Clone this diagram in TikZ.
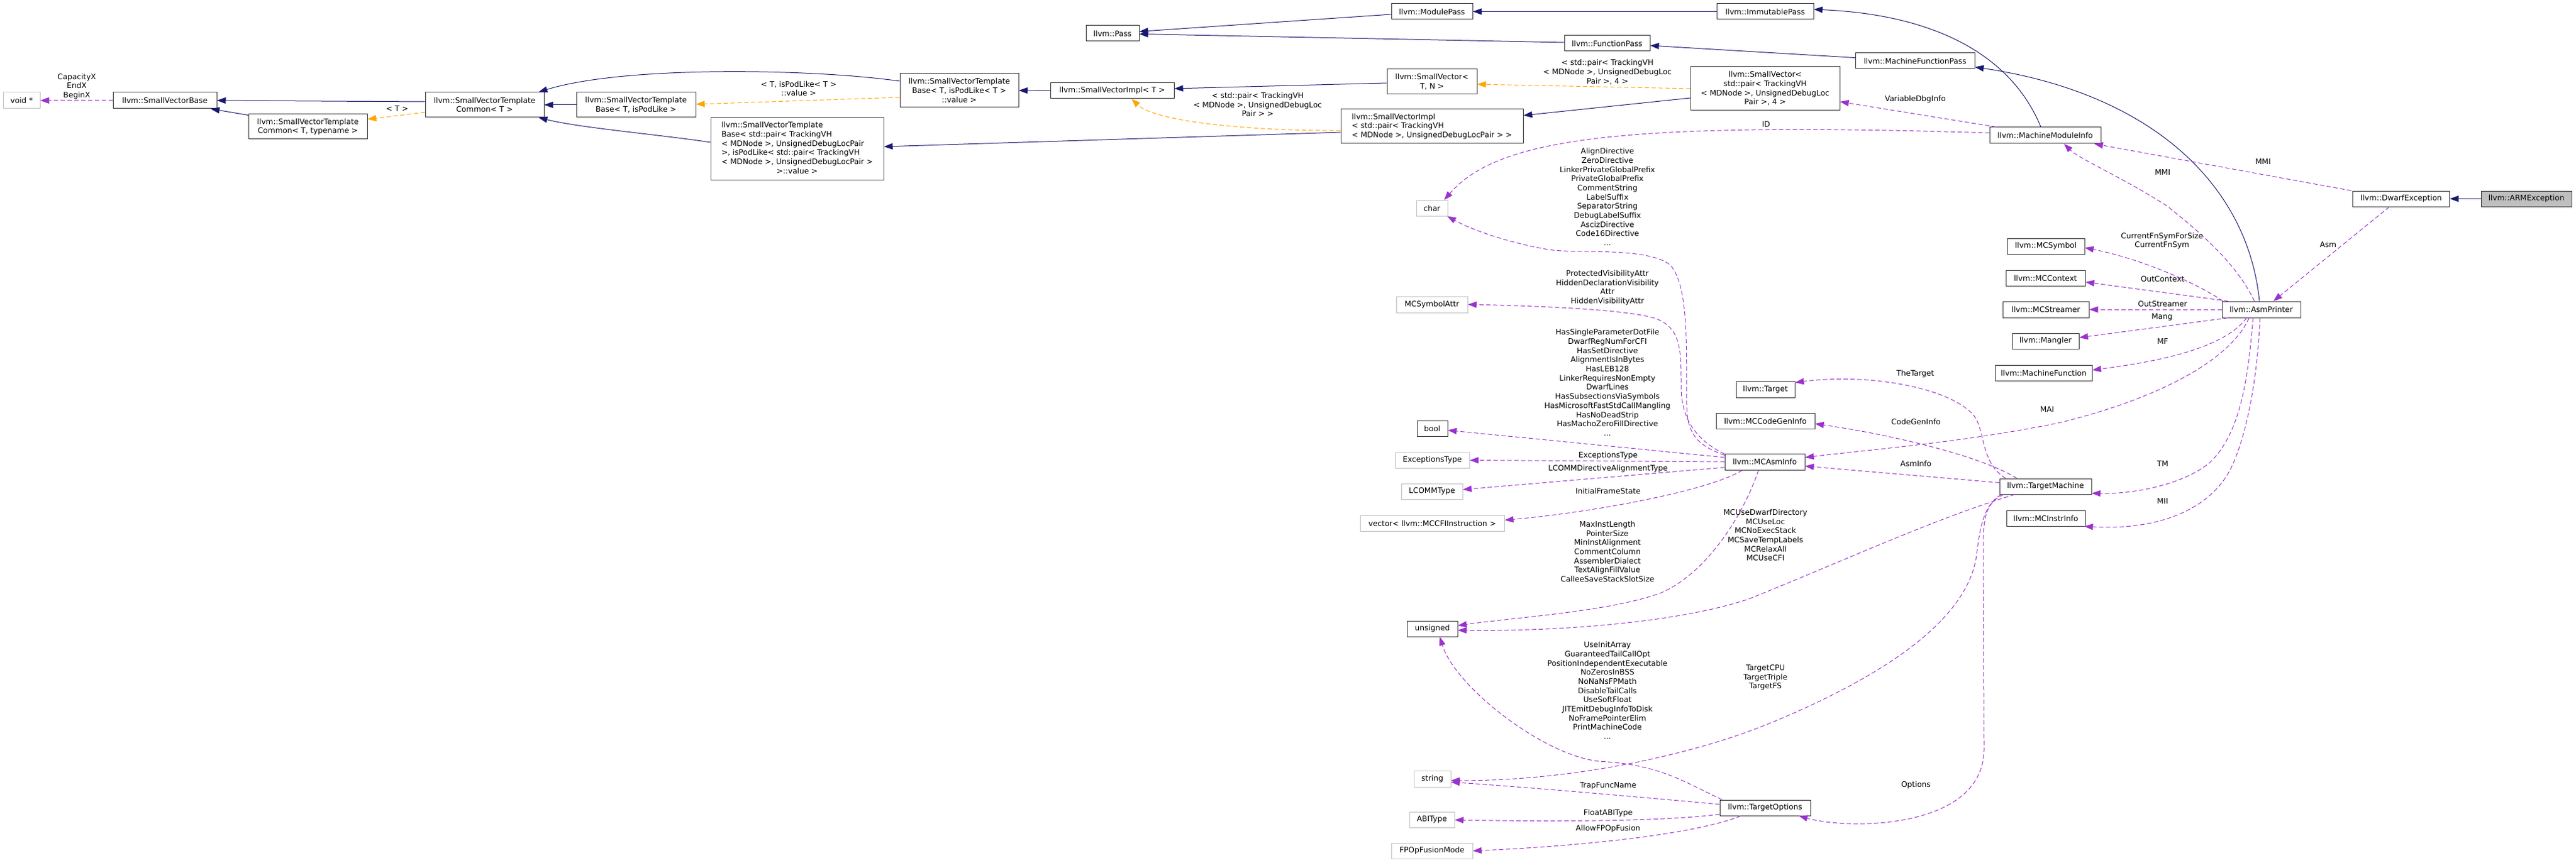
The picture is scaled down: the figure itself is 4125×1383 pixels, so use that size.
\documentclass[tikz,border=0pt]{standalone}
\usepackage{fontspec}
\setmainfont{DejaVu Sans}
\usetikzlibrary{arrows.meta}
\newcommand{\dgfont}{\fontsize{12.2pt}{14.7pt}\selectfont}
\definecolor{navyb}{HTML}{191970}
\definecolor{orng}{HTML}{FFA500}
\definecolor{purp}{HTML}{9A32CD}
\definecolor{grayb}{HTML}{BFBFBF}
\definecolor{bordr}{HTML}{333333}
\begin{document}
\begin{tikzpicture}[x=1pt,y=-1pt,
  every node/.style={font=\dgfont},
  cls/.style={draw=bordr,line width=1pt,fill=white,inner sep=0pt,align=center},
  ext/.style={cls,draw=grayb},
  lbl/.style={inner sep=0pt,align=center},
  inh/.style={draw=navyb,line width=1pt,-{Triangle[length=14pt,width=10pt]}},
  tmpl/.style={draw=orng,line width=1pt,dash pattern=on 7pt off 4pt,-{Triangle[length=14pt,width=10pt]}},
  use/.style={draw=purp,line width=1pt,dash pattern=on 7pt off 4pt,-{Triangle[length=14pt,width=10pt]}}]
\fill[white] (0,0) rectangle (4125,1383);
\path[use as bounding box] (0,0) rectangle (4125,1383);

% ---- nodes ----
\node[ext,minimum width=59pt,minimum height=26pt] (void) at (34.5,161) {void *};
\node[cls,minimum width=166pt,minimum height=26pt] (svbase) at (264,161) {llvm::SmallVectorBase};
\node[cls,minimum width=190pt,minimum height=40pt] (svtcTT) at (493,203) {llvm::SmallVectorTemplate\\Common< T, typename >};
\node[cls,minimum width=190pt,minimum height=40pt] (svtcT) at (776,168) {llvm::SmallVectorTemplate\\Common< T >};
\node[cls,minimum width=191pt,minimum height=40pt] (svtbTP) at (1018.5,168) {llvm::SmallVectorTemplate\\Base< T, isPodLike >};
\node[cls,minimum width=277pt,minimum height=99pt] (svtbPair) at (1276.5,238.5) {\begin{tabular}{@{}l@{}}llvm::SmallVectorTemplate\\Base< std::pair< TrackingVH\\< MDNode >, UnsignedDebugLocPair\\>, isPodLike< std::pair< TrackingVH\\< MDNode >, UnsignedDebugLocPair >\\\multicolumn{1}{@{}c@{}}{>::value >}\end{tabular}};
\node[cls,minimum width=190pt,minimum height=54pt] (svtbTV) at (1536,145) {llvm::SmallVectorTemplate\\Base< T, isPodLike< T >\\::value >};
\node[cls,minimum width=198pt,minimum height=25pt] (svimplT) at (1781,145.5) {llvm::SmallVectorImpl< T >};
\node[cls,minimum width=292pt,minimum height=55pt,align=left] (svimplPair) at (2293,202.5) {llvm::SmallVectorImpl\\< std::pair< TrackingVH\\< MDNode >, UnsignedDebugLocPair > >};
\node[cls,minimum width=144pt,minimum height=40pt] (svTN) at (2293,131) {llvm::SmallVector<\\T, N >};
\node[cls,minimum width=239pt,minimum height=70pt] (svPair4) at (2826.5,142) {llvm::SmallVector<\\std::pair< TrackingVH\\< MDNode >, UnsignedDebugLoc\\Pair >, 4 >};
\node[cls,minimum width=85pt,minimum height=25pt] (pass) at (1781.5,53.5) {llvm::Pass};
\node[cls,minimum width=130pt,minimum height=25pt] (modulepass) at (2293,18.5) {llvm::ModulePass};
\node[cls,minimum width=137pt,minimum height=25pt] (functionpass) at (2573.5,69.5) {llvm::FunctionPass};
\node[cls,minimum width=155pt,minimum height=25pt] (immutable) at (2826.5,18.5) {llvm::ImmutablePass};
\node[cls,minimum width=191pt,minimum height=25pt] (mfpass) at (3066.5,97.5) {llvm::MachineFunctionPass};
\node[cls,minimum width=178pt,minimum height=26pt] (mmi) at (3275,217) {llvm::MachineModuleInfo};
\node[cls,minimum width=155pt,minimum height=25pt] (dwarf) at (3845,318.5) {llvm::DwarfException};
\node[cls,fill=grayb,minimum width=145pt,minimum height=25pt] (arm) at (4045.5,318.5) {llvm::ARMException};
\node[ext,minimum width=50pt,minimum height=25pt] (char) at (2293,333.5) {char};
\node[ext,minimum width=114pt,minimum height=26pt] (mcsymattr) at (2293,488) {MCSymbolAttr};
\node[cls,minimum width=94pt,minimum height=26pt] (target) at (2827,624) {llvm::Target};
\node[cls,minimum width=49pt,minimum height=25pt] (bool) at (2293.5,686.5) {bool};
\node[cls,minimum width=158pt,minimum height=25pt] (mccodegen) at (2827,674.5) {llvm::MCCodeGenInfo};
\node[cls,minimum width=128pt,minimum height=26pt] (mcasminfo) at (2826,740) {llvm::MCAsmInfo};
\node[ext,minimum width=119pt,minimum height=25pt] (exctype) at (2293.5,737.5) {ExceptionsType};
\node[ext,minimum width=98pt,minimum height=25pt] (lcommtype) at (2293,787.5) {LCOMMType};
\node[ext,minimum width=231pt,minimum height=25pt] (vecfi) at (2293.5,838.5) {vector< llvm::MCCFIInstruction >};
\node[cls,minimum width=81pt,minimum height=25pt] (unsigned) at (2293.5,1007.5) {unsigned};
\node[ext,minimum width=59pt,minimum height=26pt] (string) at (2293.5,1248) {string};
\node[cls,minimum width=145pt,minimum height=25pt] (targetopts) at (2826.5,1294.5) {llvm::TargetOptions};
\node[ext,minimum width=72pt,minimum height=25pt] (abitype) at (2293,1313.5) {ABIType};
\node[ext,minimum width=130pt,minimum height=25pt] (fpopfusion) at (2293,1363.5) {FPOpFusionMode};
\node[cls,minimum width=124pt,minimum height=25pt] (mcsymbol) at (3276,394.5) {llvm::MCSymbol};
\node[cls,minimum width=127pt,minimum height=25pt] (mccontext) at (3275.5,445.5) {llvm::MCContext};
\node[cls,minimum width=138pt,minimum height=26pt] (mcstreamer) at (3276,496) {llvm::MCStreamer};
\node[cls,minimum width=107pt,minimum height=25pt] (mangler) at (3275.5,546.5) {llvm::Mangler};
\node[cls,minimum width=155pt,minimum height=25pt] (machfunc) at (3272.5,597.5) {llvm::MachineFunction};
\node[cls,minimum width=126pt,minimum height=26pt] (asmprinter) at (3621,496) {llvm::AsmPrinter};
\node[cls,minimum width=147pt,minimum height=25pt] (targetmachine) at (3275.5,779.5) {llvm::TargetMachine};
\node[cls,minimum width=126pt,minimum height=25pt] (mcinstrinfo) at (3276,830.5) {llvm::MCInstrInfo};

% ---- inheritance / template edges ----
\draw[inh] (arm.west) -- (dwarf.east);
\draw[inh] ([xshift=-3pt]asmprinter.north) .. controls (3600,300) and (3450,150) .. ([yshift=3pt]mfpass.south east);
\draw[inh] ([yshift=5pt]mfpass.west) -- ([yshift=-3.5pt]functionpass.east);
\draw[inh] ([yshift=1.5pt]functionpass.west) -- ([yshift=-1pt]pass.east);
\draw[inh] ([yshift=-4.5pt]modulepass.west) -- ([yshift=3pt]pass.east);
\draw[inh] (immutable.west) -- (modulepass.east);
\draw[inh] ([xshift=-7pt]mmi.north) .. controls (3230,110) and (3130,25) .. ([yshift=3.5pt]immutable.east);
\draw[inh] ([yshift=-15pt]svPair4.west) -- ([yshift=17.5pt]svimplPair.east);
\draw[tmpl] (svPair4.west) -- ([yshift=-4pt]svTN.east);
\draw[inh] ([yshift=-2pt]svTN.west) -- ([yshift=3.5pt]svimplT.east);
\draw[tmpl] ([yshift=-6.5pt]svimplPair.west) .. controls (2000,210) and (1850,195) .. ([xshift=31pt]svimplT.south);
\draw[inh] ([yshift=-9.5pt]svimplPair.west) -- ([yshift=3.5pt]svtbPair.east);
\draw[inh] (svimplT.west) -- (svtbTV.east);
\draw[tmpl] ([yshift=-11pt]svtbTV.west) -- ([yshift=1pt]svtbTP.east);
\draw[inh] ([yshift=15pt]svtbTV.west) .. controls (1300,110) and (1000,105) .. ([xshift=-9pt]svtcT.north east);
\draw[inh] (svtbTP.west) -- (svtcT.east);
\draw[inh] ([yshift=10.5pt]svtbPair.west) .. controls (1050,215) and (930,205) .. ([xshift=-9pt]svtcT.south east);
\draw[inh] ([yshift=5pt]svtcT.west) -- (svbase.east);
\draw[inh] ([yshift=-2pt]svtcTT.north west) -- ([xshift=-10pt]svbase.south east);
\draw[tmpl] ([yshift=-12pt]svtcT.west) -- ([yshift=12pt]svtcTT.east);

% ---- usage edges ----
\draw[use] (svbase.west) -- (void.east);
\draw[use] ([xshift=-2pt]dwarf.north west) -- ([xshift=-11pt]mmi.south east);
\draw[use] ([xshift=59pt]dwarf.south west) -- ([xshift=-44pt]asmprinter.north east);
\draw[use] ([yshift=4pt]mmi.west) .. controls (2600,195) and (2400,220) .. ([xshift=-6pt]char.north east);
\draw[use] ([xshift=11pt]mmi.north west) -- ([yshift=-21pt]svPair4.east);
\draw[use] ([yshift=-3pt]mcasminfo.north west) .. controls (2712,712) and (2702,690) .. (2701,650) .. controls (2700,560) and (2705,460) .. (2675,425) .. controls (2640,395) and (2520,407) .. (2480,400) .. controls (2420,390) and (2360,370) .. ([xshift=-1pt]char.south east);
\draw[use] ([yshift=-1pt]mcasminfo.north west) .. controls (2715,705) and (2692,670) .. (2692,620) .. controls (2692,560) and (2692,525) .. (2650,510) .. controls (2600,495) and (2450,490) .. (mcsymattr.east);
\draw[use] ([yshift=7pt]mcasminfo.west) -- ([yshift=-3pt]bool.east);
\draw[use] (mcasminfo.west) -- (exctype.east);
\draw[use] ([yshift=-9pt]mcasminfo.west) -- ([yshift=3pt]lcommtype.east);
\draw[use] ([xshift=-36pt]mcasminfo.south) .. controls (2740,785) and (2560,820) .. ([yshift=5pt]vecfi.east);
\draw[use] ([xshift=-10pt]mcasminfo.south) .. controls (2790,830) and (2730,920) .. (2660,950) .. controls (2580,980) and (2420,990) .. ([yshift=5pt]unsigned.east);
\draw[use] ([xshift=25pt]targetmachine.south west) .. controls (3100,830) and (2950,900) .. (2800,960) .. controls (2680,1000) and (2480,1012) .. ([yshift=-2.5pt]unsigned.east);
\draw[use] ([yshift=6pt]targetmachine.west) -- ([yshift=-7pt]mcasminfo.east);
\draw[use] ([xshift=44pt]asmprinter.south west) .. controls (3570,580) and (3450,640) .. (3300,677) .. controls (3150,708) and (3000,720) .. ([yshift=7pt]mcasminfo.east);
\draw[use] ([xshift=40pt]asmprinter.south west) .. controls (3560,560) and (3450,580) .. ([yshift=4.5pt]machfunc.east);
\draw[use] ([xshift=28pt]targetmachine.north west) .. controls (3180,735) and (3050,700) .. ([yshift=-4.5pt]mccodegen.east);
\draw[use] ([xshift=10pt]targetmachine.north west) .. controls (3170,740) and (3180,690) .. (3160,665) .. controls (3120,620) and (2990,598) .. ([yshift=11pt]target.east);
\draw[use] ([xshift=3pt]targetmachine.south west) .. controls (3175,810) and (3170,850) .. (3165,890) .. controls (3150,1000) and (3000,1090) .. (2839,1157) .. controls (2700,1215) and (2500,1252) .. ([yshift=-2.7pt]string.east);
\draw[use] ([xshift=7pt]targetmachine.south west) .. controls (3180,805) and (3176,830) .. (3176,870) -- (3177,1200) .. controls (3177,1330) and (2960,1330) .. ([xshift=-19pt]targetopts.south east);
\draw[use] ([xshift=4pt]targetopts.north west) .. controls (2700,1255) and (2660,1225) .. (2560,1220) .. controls (2470,1210) and (2330,1100) .. ([xshift=12pt]unsigned.south);
\draw[use] ([yshift=5.5pt]targetopts.west) .. controls (2600,1275) and (2450,1262) .. ([yshift=-5.3pt]string.east);
\draw[use] ([yshift=-10.5pt]targetopts.west) .. controls (2650,1318) and (2450,1316) .. ([yshift=-0.5pt]abitype.east);
\draw[use] ([xshift=-39pt]targetopts.south) .. controls (2720,1335) and (2550,1355) .. (fpopfusion.east);
\draw[use] ([xshift=2pt]asmprinter.north west) .. controls (3520,455) and (3430,415) .. ([yshift=-2.5pt]mcsymbol.east);
\draw[use] ([xshift=10pt]asmprinter.north west) -- ([yshift=-6.5pt]mccontext.east);
\draw[use] (asmprinter.west) -- (mcstreamer.east);
\draw[use] ([xshift=10pt]asmprinter.south west) -- ([yshift=5.5pt]mangler.east);
\draw[use] ([xshift=-13pt]asmprinter.south) .. controls (3600,600) and (3590,690) .. (3540,740) .. controls (3500,775) and (3420,792) .. ([yshift=-11pt]targetmachine.east);
\draw[use] ([xshift=-2pt]asmprinter.south) .. controls (3615,600) and (3600,690) .. (3574,747) .. controls (3540,820) and (3450,850) .. ([xshift=-2pt]mcinstrinfo.south east);
\draw[use] ([xshift=-11pt]asmprinter.north) .. controls (3580,420) and (3520,370) .. (3470,330) .. controls (3400,285) and (3330,255) .. ([xshift=30pt]mmi.south);

% ---- labels ----
\node[lbl] (l01) at (123,138.5) {CapacityX\\EndX\\BeginX};
\node[lbl] (l02) at (636,174) {< T >};
\node[lbl] (l03) at (1279,142) {< T, isPodLike< T >\\::value >};
\node[lbl] (l04) at (2014,167.5) {< std::pair< TrackingVH\\< MDNode >, UnsignedDebugLoc\\Pair > >};
\node[lbl] (l05) at (2574,115.5) {< std::pair< TrackingVH\\< MDNode >, UnsignedDebugLoc\\Pair >, 4 >};
\node[lbl] (l06) at (3067,159) {VariableDbgInfo};
\node[lbl] (l07) at (2828,199) {ID};
\node[lbl] (l08) at (3624,259) {MMI};
\node[lbl] (l09) at (3463,276) {MMI};
\node[lbl] (l10) at (2574,315.5) {AlignDirective\\ZeroDirective\\LinkerPrivateGlobalPrefix\\PrivateGlobalPrefix\\CommentString\\LabelSuffix\\SeparatorString\\DebugLabelSuffix\\AscizDirective\\Code16Directive\\...};
\node[lbl] (l11) at (2574,461) {ProtectedVisibilityAttr\\HiddenDeclarationVisibility\\Attr\\HiddenVisibilityAttr};
\node[lbl] (l12) at (2574,613) {HasSingleParameterDotFile\\DwarfRegNumForCFI\\HasSetDirective\\AlignmentIsInBytes\\HasLEB128\\LinkerRequiresNonEmpty\\DwarfLines\\HasSubsectionsViaSymbols\\HasMicrosoftFastStdCallMangling\\HasNoDeadStrip\\HasMachoZeroFillDirective\\...};
\node[lbl] (l13) at (2575,730) {ExceptionsType};
\node[lbl] (l14) at (2575,751) {LCOMMDirectiveAlignmentType};
\node[lbl] (l15) at (2575,787) {InitialFrameState};
\node[lbl] (l16) at (2574,884) {MaxInstLength\\PointerSize\\MinInstAlignment\\CommentColumn\\AssemblerDialect\\TextAlignFillValue\\CalleeSaveStackSlotSize};
\node[lbl] (l17) at (2827,857.5) {MCUseDwarfDirectory\\MCUseLoc\\MCNoExecStack\\MCSaveTempLabels\\MCRelaxAll\\MCUseCFI};
\node[lbl] (l18) at (2574,1106.5) {UseInitArray\\GuaranteedTailCallOpt\\PositionIndependentExecutable\\NoZerosInBSS\\NoNaNsFPMath\\DisableTailCalls\\UseSoftFloat\\JITEmitDebugInfoToDisk\\NoFramePointerElim\\PrintMachineCode\\...};
\node[lbl] (l19) at (2827,1086) {TargetCPU\\TargetTriple\\TargetFS};
\node[lbl] (l20) at (2575,1259) {TrapFuncName};
\node[lbl] (l21) at (2575,1303) {FloatABIType};
\node[lbl] (l22) at (2575,1328) {AllowFPOpFusion};
\node[lbl] (l23) at (3067,599) {TheTarget};
\node[lbl] (l24) at (3068,676) {CodeGenInfo};
\node[lbl] (l25) at (3068,743) {AsmInfo};
\node[lbl] (l26) at (3278,656) {MAI};
\node[lbl] (l27) at (3462,386) {CurrentFnSymForSize\\CurrentFnSym};
\node[lbl] (l28) at (3463,447) {OutContext};
\node[lbl] (l29) at (3463,487) {OutStreamer};
\node[lbl] (l30) at (3462,508) {Mang};
\node[lbl] (l31) at (3463,547) {MF};
\node[lbl] (l32) at (3728,392) {Asm};
\node[lbl] (l33) at (3463,743) {TM};
\node[lbl] (l34) at (3463,803) {MII};
\node[lbl] (l35) at (3068,1258) {Options};
\end{tikzpicture}
\end{document}
